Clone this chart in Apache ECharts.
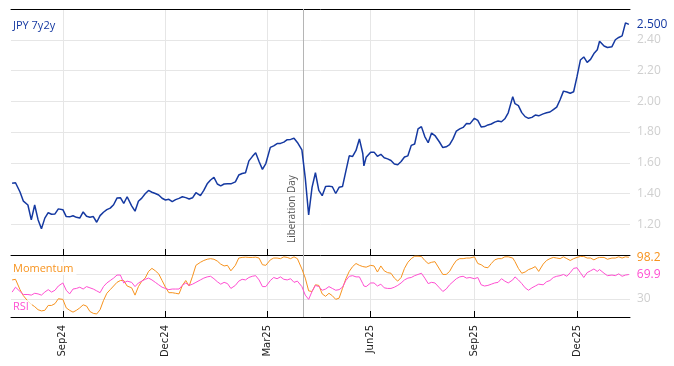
<!DOCTYPE html>
<html><head><meta charset="utf-8">
<script src="https://cdn.jsdelivr.net/npm/echarts@6/dist/echarts.min.js"></script>
<style>html,body{margin:0;padding:0;background:#fff}#c{width:674px;height:366px}</style>
</head><body><div id="c"></div>
<script>
const dates = [
 '2024-07-18','2024-07-21','2024-07-25','2024-07-28',
 '2024-08-01','2024-08-04','2024-08-07','2024-08-10','2024-08-13','2024-08-16','2024-08-19','2024-08-22','2024-08-25','2024-08-28',
 '2024-09-01','2024-09-04','2024-09-07','2024-09-10','2024-09-13','2024-09-16','2024-09-19','2024-09-22','2024-09-25','2024-09-28',
 '2024-10-01','2024-10-04','2024-10-07','2024-10-10','2024-10-13','2024-10-16','2024-10-19','2024-10-22','2024-10-25','2024-10-28',
 '2024-11-01','2024-11-04','2024-11-07','2024-11-10','2024-11-13','2024-11-16','2024-11-19','2024-11-22','2024-11-25','2024-11-28',
 '2024-12-01','2024-12-04','2024-12-07','2024-12-10','2024-12-13','2024-12-16','2024-12-19','2024-12-22','2024-12-25','2024-12-28',
 '2025-01-01','2025-01-04','2025-01-07','2025-01-10','2025-01-13','2025-01-16','2025-01-19','2025-01-22','2025-01-25','2025-01-28',
 '2025-02-01','2025-02-04','2025-02-07','2025-02-10','2025-02-13','2025-02-16','2025-02-19','2025-02-22','2025-02-25','2025-02-28',
 '2025-03-01','2025-03-04','2025-03-07','2025-03-10','2025-03-13','2025-03-16','2025-03-19','2025-03-22','2025-03-25','2025-03-28',
 '2025-04-01','2025-04-04','2025-04-07','2025-04-10','2025-04-13','2025-04-16','2025-04-19','2025-04-22','2025-04-25','2025-04-28',
 '2025-05-01','2025-05-04','2025-05-07','2025-05-10','2025-05-13','2025-05-16','2025-05-19','2025-05-22','2025-05-25','2025-05-26','2025-05-28',
 '2025-06-01','2025-06-04','2025-06-07','2025-06-10','2025-06-13','2025-06-16','2025-06-19','2025-06-22','2025-06-25','2025-06-28',
 '2025-07-01','2025-07-04','2025-07-07','2025-07-10','2025-07-13','2025-07-16','2025-07-19','2025-07-22','2025-07-25','2025-07-28',
 '2025-08-01','2025-08-04','2025-08-07','2025-08-10','2025-08-13','2025-08-16','2025-08-19','2025-08-22','2025-08-25','2025-08-28',
 '2025-09-01','2025-09-04','2025-09-07','2025-09-10','2025-09-13','2025-09-16','2025-09-19','2025-09-22','2025-09-25','2025-09-28',
 '2025-10-01','2025-10-05','2025-10-07','2025-10-10','2025-10-13','2025-10-16','2025-10-19','2025-10-22','2025-10-25','2025-10-28',
 '2025-11-01','2025-11-04','2025-11-07','2025-11-10','2025-11-13','2025-11-16','2025-11-19','2025-11-22','2025-11-25','2025-11-28',
 '2025-12-01','2025-12-04','2025-12-07','2025-12-10','2025-12-13','2025-12-16','2025-12-19','2025-12-21','2025-12-25','2025-12-28',
 '2026-01-01','2026-01-04','2026-01-07','2026-01-10','2026-01-13','2026-01-16'
];
const jpy7y2y = [
 1.466,1.47,1.41,1.35,
 1.325,1.228,1.325,1.23,1.17,1.24,1.275,1.265,1.267,1.30,
 1.295,1.25,1.248,1.255,1.245,1.24,1.28,1.252,1.246,1.25,
 1.213,1.256,1.278,1.295,1.305,1.327,1.37,1.373,1.335,1.379,
 1.32,1.285,1.35,1.37,1.398,1.42,1.408,1.40,1.39,1.369,
 1.358,1.362,1.347,1.36,1.368,1.379,1.373,1.364,1.372,1.405,
 1.386,1.42,1.463,1.488,1.505,1.462,1.45,1.462,1.464,1.463,
 1.476,1.52,1.53,1.535,1.612,1.64,1.665,1.608,1.557,1.595,
 1.59,1.70,1.71,1.725,1.726,1.734,1.75,1.752,1.759,1.732,
 1.684,1.50,1.26,1.44,1.535,1.42,1.386,1.445,1.448,1.444,
 1.40,1.44,1.445,1.545,1.645,1.641,1.68,1.755,1.66,1.58,1.635,
 1.668,1.669,1.642,1.655,1.632,1.625,1.615,1.592,1.587,1.608,
 1.637,1.645,1.713,1.722,1.82,1.835,1.77,1.73,1.793,1.777,
 1.735,1.699,1.704,1.718,1.755,1.806,1.82,1.83,1.855,1.853,
 1.889,1.875,1.833,1.835,1.846,1.852,1.864,1.871,1.867,1.886,
 1.925,2.03,1.984,1.972,1.926,1.90,1.889,1.895,1.91,1.905,
 1.918,1.925,1.93,1.946,1.962,2.01,2.066,2.06,2.052,2.062,
 2.16,2.268,2.288,2.253,2.272,2.31,2.335,2.39,2.359,2.35,
 2.355,2.40,2.415,2.425,2.51,2.50
];
const momentum = [
 61,62,45,35,
 26,21,17,12,10,11,19,19,22,30,
 29,15,11,8,11,15,20,18,9,6,
 5,12,27,39,45,51,57,60,60,51,
 48,36,50,59,64,75,80,76,71,60,
 49,40,40,39,38,52,60,51,67,85,
 90,93,95,96,95,92,87,84,85,76,
 85,97,98,98.5,98,98,98.5,97,86,85,
 87,94,97,97,96,99,98,96,99,96,
 79,64,43,42,53,52,38,34,39,35,
 29,31,47,63,75,83,88,85,83,84,82,
 85,84,74,84,76,73,72,64,59,65,
 80,90,96,100,100,99.6,93,88,90,91,
 79,70,70,75,85,93,96,96,97,97,
 99,88,86,82,81,88,94,96,96,99,
 99,97,91,80,72,74,78,80,83,75,
 87,93,96,98,97,96,99,96,93,96,
 98,99.6,99.6,97,97,94,97,98,98,95,
 97,97,99,97,99,98.2
];
const rsi = [
 41,49,42,37,
 37,36,39,38,36,41,45,41,44,51,
 56,44,38,46,47,49,46,50,48,46,
 43,40,50,56,60,64,69,69,56,59,
 57,50,56,59,62,64,61,57,53,49,
 47,45,46,46,46,52,56,52,54,57,
 61,64,66,67,63,58,54,57,55,47,
 52,59,62,61,65,67,68,61,50,50,
 52,60,65,63,66,62,61,63,57,59,
 50,36,29,42,52,50,44,46,50,47,
 44,45,49,60,67,68,66,66,55,51,50,
 56,56,51,54,48,47,47,49,52,56,
 61,64,65,68,70,72,64,55,57,56,
 48,42,46,53,58,63,66,67,64,65,
 63,65,53,51,52,54,56,57,63,59,
 56,61,66,61,55,48,44,48,51,54,
 53,58,60,65,67,68,70,67,73,80,
 81,73,65,73,76,79,75,78,72,68,
 69,68,71,67,69,69.9
];
const tickDates = ['2024-09-01','2024-12-01','2025-03-01','2025-06-01','2025-09-01','2025-12-01'];
const tickLabels = ['Sep24','Dec24','Mar25','Jun25','Sep25','Dec25'];
const eventDate = '2025-04-02';
const eventLabel = 'Liberation Day';
const rangeStart = '2024-07-17', rangeEnd = '2026-01-17';
const rsiLevels = [30, 70];

const ts = s => { const [y, m, d] = s.split('-').map(Number); return new Date(y, m - 1, d).getTime(); };
const tickTs = tickDates.map(ts);
const pair = arr => dates.map((d, i) => [ts(d), arr[i]]);

const BLUE = '#1539a1', ORANGE = '#f7931e', PINK = '#ff4fd2', GRID = '#e6e6e6', LBL = '#cfcfcf';
const fmtTick = v => { for (let i = 0; i < tickTs.length; i++) if (Math.abs(tickTs[i] - v) < 43200000) return tickLabels[i]; return ''; };

const baseX = (grid, extra) => Object.assign({
  type: 'value', gridIndex: grid, min: ts(rangeStart), max: ts(rangeEnd),
  axisLine: { show: true, onZero: false, lineStyle: { color: '#000', width: 1 } },
  axisTick: { show: true, inside: true, length: 6, lineStyle: { color: '#000' }, customValues: tickTs },
  axisLabel: { show: false, customValues: tickTs, formatter: fmtTick },
  splitLine: { show: true, lineStyle: { color: GRID, width: 1 } },
  axisPointer: { show: false }
}, extra);

const chart = echarts.init(document.getElementById('c'), null, { renderer: 'canvas' });
chart.setOption({
  animation: false,
  backgroundColor: '#fff',
  textStyle: { fontFamily: 'Open Sans' },
  title: [
    { text: 'JPY 7y2y', left: 9, top: 18, padding: [2, 4], textStyle: { color: BLUE, fontSize: 11, fontWeight: 'normal', fontFamily: 'Open Sans' } },
    { text: 'Momentum', left: 10, top: 262, padding: [1, 3], backgroundColor: 'rgba(255,255,255,0.75)', textStyle: { color: ORANGE, fontSize: 11, fontWeight: 'normal', fontFamily: 'Open Sans' } },
    { text: 'RSI', left: 10, top: 300, padding: [1, 3], backgroundColor: 'rgba(255,255,255,0.75)', textStyle: { color: PINK, fontSize: 11, fontWeight: 'normal', fontFamily: 'Open Sans' } }
  ],
  grid: [
    { left: 11, right: 44, top: 9, height: 246 },
    { left: 11, right: 44, top: 255, height: 62 }
  ],
  xAxis: [
    baseX(0, {}),
    baseX(0, { position: 'top', axisTick: { show: false }, axisLabel: { show: false }, splitLine: { show: false } }),
    baseX(1, {
      axisLabel: { show: true, customValues: tickTs, formatter: fmtTick, rotate: 90, margin: 8, fontSize: 10, color: '#222', fontFamily: 'DejaVu Sans' }
    })
  ],
  yAxis: [
    { type: 'value', gridIndex: 0, position: 'right', min: 1.0, max: 2.6, interval: 0.2,
      axisLine: { show: false }, axisTick: { show: false },
      axisLabel: { color: LBL, fontSize: 12, margin: 7, showMinLabel: false, showMaxLabel: false, fontFamily: 'Open Sans', formatter: v => v.toFixed(2) },
      splitLine: { show: true, lineStyle: { color: GRID } } },
    { type: 'value', gridIndex: 1, min: 0, max: 102, show: false }
  ],
  series: [
    { name: 'JPY 7y2y', type: 'line', xAxisIndex: 0, yAxisIndex: 0, data: pair(jpy7y2y), showSymbol: false, z: 3,
      lineStyle: { color: BLUE, width: 1.5 }, itemStyle: { color: BLUE },
      endLabel: { show: true, formatter: p => p.value[1].toFixed(3), color: BLUE, fontSize: 12, distance: 8, fontFamily: 'Open Sans' },
      markLine: { silent: true, symbol: ['none', 'none'], z: 1,
        lineStyle: { color: '#b5b5b5', width: 1, type: 'solid' },
        label: { show: true, position: 'insideStartTop', formatter: eventLabel, color: '#555', fontSize: 10, fontFamily: 'Open Sans', distance: [12, 6] },
        data: [{ xAxis: ts(eventDate) }] } },
    { name: 'Momentum', type: 'line', xAxisIndex: 2, yAxisIndex: 1, data: pair(momentum), showSymbol: false, z: 3,
      lineStyle: { color: ORANGE, width: 1 }, itemStyle: { color: ORANGE },
      endLabel: { show: true, formatter: p => p.value[1].toFixed(1), color: ORANGE, fontSize: 12, distance: 8, fontFamily: 'Open Sans' },
      markLine: { silent: true, symbol: ['none', 'none'], z: 1,
        lineStyle: { color: GRID, width: 1, type: 'solid' },
        data: [
          { yAxis: rsiLevels[0], label: { show: true, position: 'end', formatter: String(rsiLevels[0]), color: LBL, fontSize: 12, distance: 7, fontFamily: 'Open Sans' } },
          { yAxis: rsiLevels[1], label: { show: false } },
          { xAxis: ts(eventDate), label: { show: false }, lineStyle: { color: '#b5b5b5', width: 1, type: 'solid' } }
        ] } },
    { name: 'RSI', type: 'line', xAxisIndex: 2, yAxisIndex: 1, data: pair(rsi), showSymbol: false, z: 3,
      lineStyle: { color: PINK, width: 1 }, itemStyle: { color: PINK },
      endLabel: { show: true, formatter: p => p.value[1].toFixed(1), color: PINK, fontSize: 12, distance: 8, fontFamily: 'Open Sans' } }
  ]
});
</script></body></html>
